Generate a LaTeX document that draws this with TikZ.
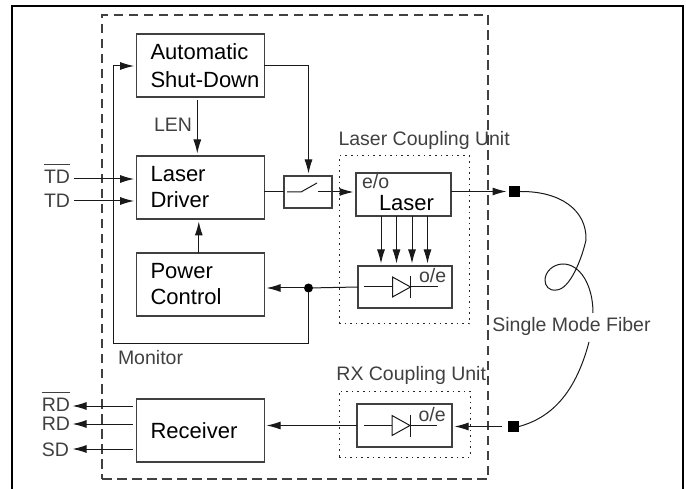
\documentclass[tikz,border=0pt]{standalone}
\usepackage{fontspec}
\setmainfont{Liberation Sans}
\usetikzlibrary{positioning,arrows.meta}
\newcommand{\barsig}[1]{$\overline{\mbox{#1\rule{0pt}{17.5pt}}}$}

\begin{document}
\begin{tikzpicture}[x=1pt, y=-1pt,
    every node/.style={inner sep=0pt, outer sep=0pt},
    blockbox/.style={draw=black!75, line width=1.1pt, minimum width=127.5pt, minimum height=63pt, inner xsep=14pt, text width=99.5pt, align=left, font=\fontsize{22}{26}\selectfont},
    unitbox/.style={draw=black!75, line width=1.1pt},
    labeltext/.style={text=black!75, font=\fontsize{19.5}{23}\selectfont},
    sigtext/.style={labeltext, text height=14pt, text depth=0pt},
    wire/.style={draw=black!90, line width=1pt},
    sig/.style={wire, -{Latex[length=14pt,width=8pt]}, shorten >=2.5pt}]

    \useasboundingbox (0,0) rectangle (686,489);

    \draw[black, line width=2pt] (12,489) -- (12,5.6) -- (682.8,5.6) -- (682.8,489);

    \node[draw=black!75, line width=1.1pt, dash pattern=on 9.5pt off 5.5pt, minimum width=386pt, minimum height=464pt] (module) at (295,247) {};
    \node[draw=black!85, line width=1pt, dash pattern=on 1.6pt off 4pt, minimum width=130pt, minimum height=168pt] (lcu) at (404,240) {};
    \node[draw=black!85, line width=1pt, dash pattern=on 1.6pt off 4pt, minimum width=131pt, minimum height=66pt] (rxu) at (404.5,424) {};

    \node[blockbox, font=\fontsize{22}{28}\selectfont] (asd) at (200.3,65.5) {Automatic\\\mbox{Shut-Down}};
    \node[blockbox, below=59pt of asd] (driver) {Laser\\Driver};
    \node[blockbox, below=34pt of driver] (power) {Power\\Control};
    \node[blockbox, below=83pt of power] (receiver) {Receiver};

    \node[unitbox, minimum width=48pt, minimum height=32pt] (switch) at (308,192) {};
    \node[unitbox, minimum width=95pt, minimum height=43pt] (laser) at (403.5,194.5) {};
    \node[unitbox, minimum width=94pt, minimum height=42pt] (pdtop) at (405,287) {};
    \node[unitbox, minimum width=95pt, minimum height=43pt] (pdbot) at (404.5,425.5) {};

    \node[labeltext, anchor=base west] (eo) at (362,189) {e/o};
    \node[anchor=base west, font=\fontsize{22}{26}\selectfont] (lasertext) at (379,211) {Laser};

    \node[sigtext, anchor=east] (tdbar) at (70,176.5) {\barsig{TD}};
    \node[sigtext, anchor=east] (td) at (70,201) {TD};
    \node[sigtext, anchor=east] (rdbar) at (70,404.5) {\barsig{RD}};
    \node[sigtext, anchor=east] (rd) at (70,423.5) {RD};
    \node[sigtext, anchor=east] (sd) at (69,449) {SD};

    \node[labeltext, anchor=base west] (lcutext) at (338.5,146) {Laser Coupling Unit};
    \node[labeltext, anchor=base east] (rxutext) at (486,381) {RX Coupling Unit};
    \node[labeltext, anchor=base west] (monitortext) at (118,364) {Monitor};
    \node[labeltext, anchor=base east] (lentext) at (192,132) {LEN};
    \node[labeltext, anchor=base] (fibertext) at (571.5,331) {Single Mode Fiber};

    \node[fill=black, minimum size=11pt] (conntop) at (514.5,191.5) {};
    \node[fill=black, minimum size=11pt] (connbot) at (513.5,426.5) {};
    \node[fill=black, circle, minimum size=9pt] (junction) at (308.5,288) {};

    \coordinate (loopa) at (308.5,344);
    \coordinate (loopb) at (113,344);
    \coordinate (loopc) at (113,66);
    \coordinate (asdright) at (308.5,66);

    % monitor loop
    \draw[sig] (junction) -- (loopa) -- (loopb) -- (loopc) -- (loopc -| asd.west);
    \draw[sig] (asd.east |- asdright) -- (asdright) -- (switch.north -| asdright);

    \draw[sig, shorten <=3pt] ([xshift=-3pt]asd.south) -- ([xshift=-3pt]driver.north);
    \draw[sig] ([xshift=-1.5pt]power.north) -- ([xshift=-1.5pt]driver.south);

    \draw[sig] ([xshift=4pt,yshift=-2.5pt]tdbar.east) -- ([yshift=8.5pt]driver.west);
    \draw[sig] ([xshift=4pt]td.east) -- (td.east -| driver.west);

    \draw[wire] (driver.east |- switch.west) -- (switch.west);
    \draw[sig] (switch.east) -- (switch.east -| laser.west);
    \draw[sig] (laser.east |- conntop.west) -- (conntop.west);
    \foreach \dx in {-22.5,-7,8.5,24} {
        \draw[sig] ([xshift=\dx pt]laser.south) -- ([xshift=\dx pt]laser.south |- pdtop.north);
    }

    \draw[wire] (pdtop.west) -- (junction);
    \draw[sig] (junction) -- (junction -| power.east);
    \draw[sig] (pdbot.west) -- (pdbot.west -| receiver.east);
    \draw[sig, shorten <=6pt] (connbot.west) -- (connbot.west -| pdbot.east);

    \draw[sig, shorten <=4pt] ([yshift=24.5pt]receiver.west) -- ([yshift=24.5pt]receiver.west -| rdbar.east);
    \draw[sig, shorten <=4pt] ([yshift=6.5pt]receiver.west) -- ([yshift=6.5pt]receiver.west -| rd.east);
    \draw[sig, shorten <=4pt] ([yshift=-18.5pt]receiver.west) -- ([yshift=-18.5pt]receiver.west -| rd.east);

    % switch contacts
    \draw[wire] ([xshift=-21pt]switch.center) -- ++(14,0) -- ++(16,-9);
    \draw[wire] ([xshift=10pt]switch.center) -- ([xshift=-1pt]switch.east);

    \foreach \pd in {pdtop,pdbot} {
        \draw[wire] ([xshift=-41pt]\pd.center) -- ([xshift=32.5pt]\pd.center);
        \draw[wire, fill=white] ([xshift=-12.5pt,yshift=10pt]\pd.center) -- ([xshift=-12.5pt,yshift=-10pt]\pd.center) -- ([xshift=5.5pt]\pd.center) -- cycle;
        \draw[wire] ([xshift=5.5pt,yshift=11pt]\pd.center) -- ([xshift=5.5pt,yshift=-11pt]\pd.center);
        \node[labeltext, anchor=base west] (\pd-oe) at ([xshift=14pt,yshift=4pt]\pd.center) {o/e};
    }

    % fiber
    \draw[wire] (conntop.east) .. controls (560,191) and (587,210) .. (586,240)
        .. controls (582,258) and (570,290) .. (556,290)
        .. controls (549,291) and (545,286) .. (545,280)
        .. controls (545,272) and (553,264) .. (563,264)
        .. controls (580,264) and (593,285) .. (593,313);
    \draw[wire] (589,342) .. controls (575,395) and (550,418) .. (connbot.east);
\end{tikzpicture}
\end{document}
